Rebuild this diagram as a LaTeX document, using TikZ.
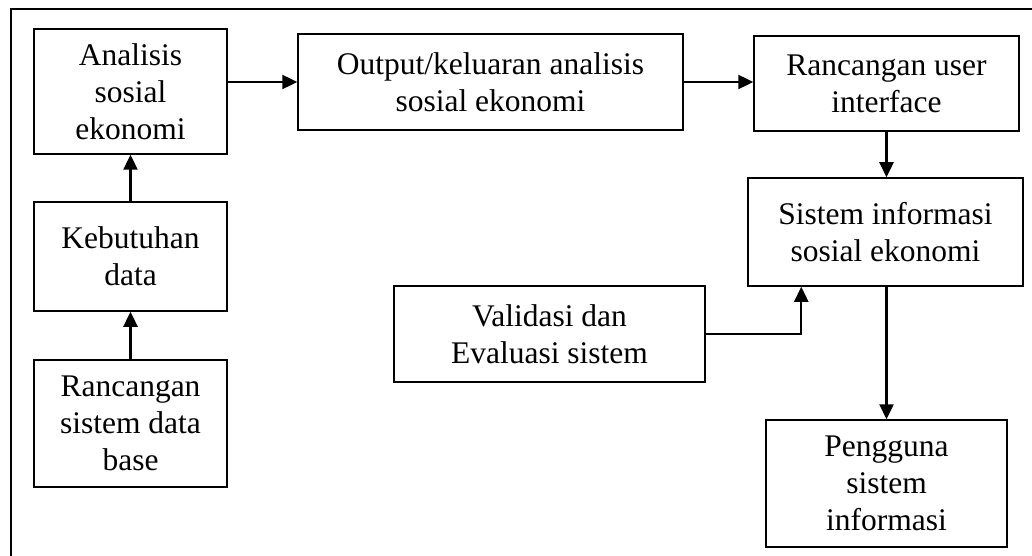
\documentclass[tikz,border=0pt]{standalone}
\usepackage{fontspec}
\setmainfont{Liberation Serif}
\usetikzlibrary{arrows.meta}

\tikzset{
  stepbox/.style={draw=black, line width=1.5pt, rectangle, align=center,
    inner sep=0pt, font=\fontsize{31.5}{37}\selectfont},
  arr/.style={draw=black, line width=2.4pt,
    -{Triangle[length=15pt,width=14pt]}},
}

\begin{document}
\begin{tikzpicture}[x=1pt, y=-1pt]
  \useasboundingbox (0,0) rectangle (1032,556);
  \clip (0,0) rectangle (1032,556);
  % outer frame (runs past the page on the right and bottom)
  \draw[line width=1.5pt] (11,560) -- (11,9) -- (1040,9);

  % left column
  \node[stepbox, minimum width=193pt, minimum height=125pt] (A) at (130.5,91.5)
    {Analisis\\sosial\\ekonomi};
  \node[stepbox, minimum width=193pt, minimum height=109pt] (K) at (130.5,256.5)
    {Kebutuhan\\data};
  \node[stepbox, minimum width=193pt, minimum height=127pt] (R) at (130.5,423.5)
    {Rancangan\\sistem data\\base};

  % top row
  \node[stepbox, minimum width=385pt, minimum height=96pt] (O) at (490.5,82)
    {Output/keluaran analisis\\sosial ekonomi};
  \node[stepbox, minimum width=265pt, minimum height=95pt] (U) at (886.5,83.5)
    {Rancangan user\\interface};

  % right column
  \node[stepbox, minimum width=275pt, minimum height=108pt] (S) at (885.5,232)
    {Sistem informasi\\sosial ekonomi};
  \node[stepbox, minimum width=311pt, minimum height=96pt] (V) at (549.5,334)
    {Validasi dan\\Evaluasi sistem};
  \node[stepbox, minimum width=241pt, minimum height=127pt] (P) at (886.5,483.5)
    {Pengguna\\sistem\\informasi};

  % connectors
  \draw[arr] (O.west -| A.east) -- (O.west);
  \draw[arr] (O.east) -- (O.east -| U.west);
  \draw[arr] (U.south) -- (U.south |- S.north);
  \draw[arr] (P.north |- S.south) -- (P.north);
  \draw[arr] (V.east) -| ([xshift=54pt]S.south west);
  \draw[arr] (K.north) -- (A.south);
  \draw[arr] (R.north) -- (K.south);
\end{tikzpicture}
\end{document}
